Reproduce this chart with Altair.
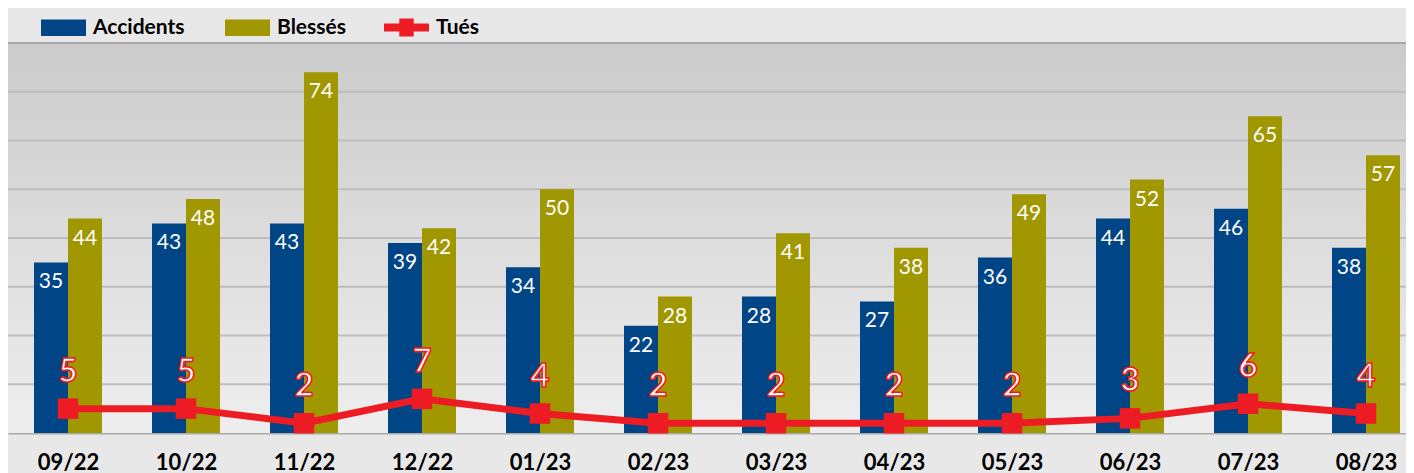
import altair as alt
import pandas as pd

months = ["09/22", "10/22", "11/22", "12/22", "01/23", "02/23",
          "03/23", "04/23", "05/23", "06/23", "07/23", "08/23"]
accidents = [35, 43, 43, 39, 34, 22, 28, 27, 36, 44, 46, 38]
blesses = [44, 48, 74, 42, 50, 28, 41, 38, 49, 52, 65, 57]
tues = [5, 5, 2, 7, 4, 2, 2, 2, 2, 3, 6, 4]
series_names = ["Accidents", "Blessés"]
line_name = "Tués"
grid_values = [10, 20, 30, 40, 50, 60, 70, 80]
month_idx = list(range(len(months)))

BLUE = "#004586"
OLIVE = "#A19700"
RED = "#ED1C24"
FONT = "Lato"
W = 1398
H = 390
STEP = 118.0
FIRST = 60.0
BAR_W = 34

bars_df = pd.DataFrame({
    "idx": month_idx * 2,
    "series": [series_names[0]] * len(months) + [series_names[1]] * len(months),
    "value": accidents + blesses,
})
line_df = pd.DataFrame({"idx": month_idx, "value": tues, "lt": [line_name] * len(months)})
grid_df = pd.DataFrame({"g": grid_values})

label_expr = "[" + ",".join("'%s'" % m for m in months) + "][datum.value]"
x_scale = alt.Scale(domain=[-FIRST / STEP, (W - FIRST) / STEP], nice=False, zero=False, padding=0)
y_scale = alt.Scale(domain=[0, 80])

x_axis = alt.Axis(title=None, labelAngle=0, ticks=False, values=month_idx, labelExpr=label_expr,
                  labelFont=FONT, labelFontWeight="bold",
                  labelFontSize=22, labelColor="#000000", labelPadding=19,
                  domainColor="#a9a9a9", domainWidth=2, grid=False)
y_axis = alt.Axis(title=None, labels=False, ticks=False, grid=False,
                  domainColor="#a9a9a9", domainWidth=2)

rect_path = "M-1,-0.37H1V0.37H-1Z"
tues_path = "M-1,-0.18H1V0.18H-1Z M-0.32,-0.4H0.32V0.4H-0.32Z"

gradient = alt.LinearGradient(
    gradient="linear",
    stops=[alt.GradientStop(offset=0, color="#cbcbcb"), alt.GradientStop(offset=1, color="#eeeeee")],
    x1=0, x2=0, y1=0, y2=1,
)

bg = alt.Chart(pd.DataFrame({"a": [0]})).mark_rect(color=gradient, opacity=1).encode(
    x=alt.value(0), x2=alt.value(W), y=alt.value(0), y2=alt.value(H)
)

grid = alt.Chart(grid_df).mark_rule(strokeWidth=2).encode(
    y=alt.Y("g:Q", scale=y_scale, axis=y_axis),
    color=alt.condition("datum.g == 80", alt.value("#a9a9a9"), alt.value("#bdbdbd")),
)

color_enc = alt.Color("series:N", scale=alt.Scale(domain=series_names, range=[BLUE, OLIVE]),
                      legend=alt.Legend(title=None, orient="none", legendX=33, legendY=-38,
                                        direction="horizontal", symbolType=rect_path, symbolSize=2025,
                                        symbolStrokeWidth=0, labelFont=FONT, labelFontWeight="bold",
                                        labelFontSize=21, labelColor="#000000", labelOffset=7,
                                        columnPadding=40, padding=0, offset=0, labelLimit=300))

layers = []
for k, name in enumerate(series_names):
    shift = -BAR_W / 2 if k == 0 else BAR_W / 2
    base = alt.Chart(bars_df).transform_filter(alt.datum.series == name)
    layers.append(base.mark_bar(opacity=1, width=BAR_W, xOffset=shift).encode(
        x=alt.X("idx:Q", scale=x_scale, axis=x_axis),
        y=alt.Y("value:Q", scale=y_scale, axis=y_axis),
        color=color_enc,
    ))
    layers.append(base.mark_text(color="white", font=FONT, fontSize=21, baseline="alphabetic",
                                 align="center", dx=shift, dy=26).encode(
        x=alt.X("idx:Q", scale=x_scale),
        y=alt.Y("value:Q", scale=y_scale),
        text=alt.Text("value:Q"),
    ))

base_line = alt.Chart(line_df)
line = base_line.mark_line(color=RED, strokeWidth=7, opacity=1).encode(
    x=alt.X("idx:Q", scale=x_scale),
    y=alt.Y("value:Q", scale=y_scale),
)
squares = base_line.mark_square(size=420, opacity=1, filled=True).encode(
    x=alt.X("idx:Q", scale=x_scale),
    y=alt.Y("value:Q", scale=y_scale),
    fill=alt.Fill("lt:N", scale=alt.Scale(domain=[line_name], range=[RED]),
                  legend=alt.Legend(title=None, orient="none", legendX=376, legendY=-38,
                                    direction="horizontal", symbolType=tues_path, symbolSize=2025,
                                    symbolStrokeWidth=0, labelFont=FONT, labelFontWeight="bold",
                                    labelFontSize=21, labelColor="#000000", labelOffset=7,
                                    padding=0, offset=0)),
)
tues_labels = base_line.mark_text(fill="white", stroke=RED, strokeWidth=1.6, font=FONT,
                                  fontWeight="bold", fontSize=33, baseline="alphabetic",
                                  align="center", dy=-27).encode(
    x=alt.X("idx:Q", scale=x_scale),
    y=alt.Y("value:Q", scale=y_scale),
    text=alt.Text("value:Q"),
)

chart = alt.layer(bg, grid, *layers, line, squares, tues_labels).properties(
    width=W, height=H,
    autosize=alt.AutoSizeParams(type="none"),
    padding={"left": 0, "top": 35, "right": 0, "bottom": 40},
    background="#e8e8e8",
).configure_view(stroke=None)

chart.save("out.html", embed_options={"renderer": "svg", "actions": False})
